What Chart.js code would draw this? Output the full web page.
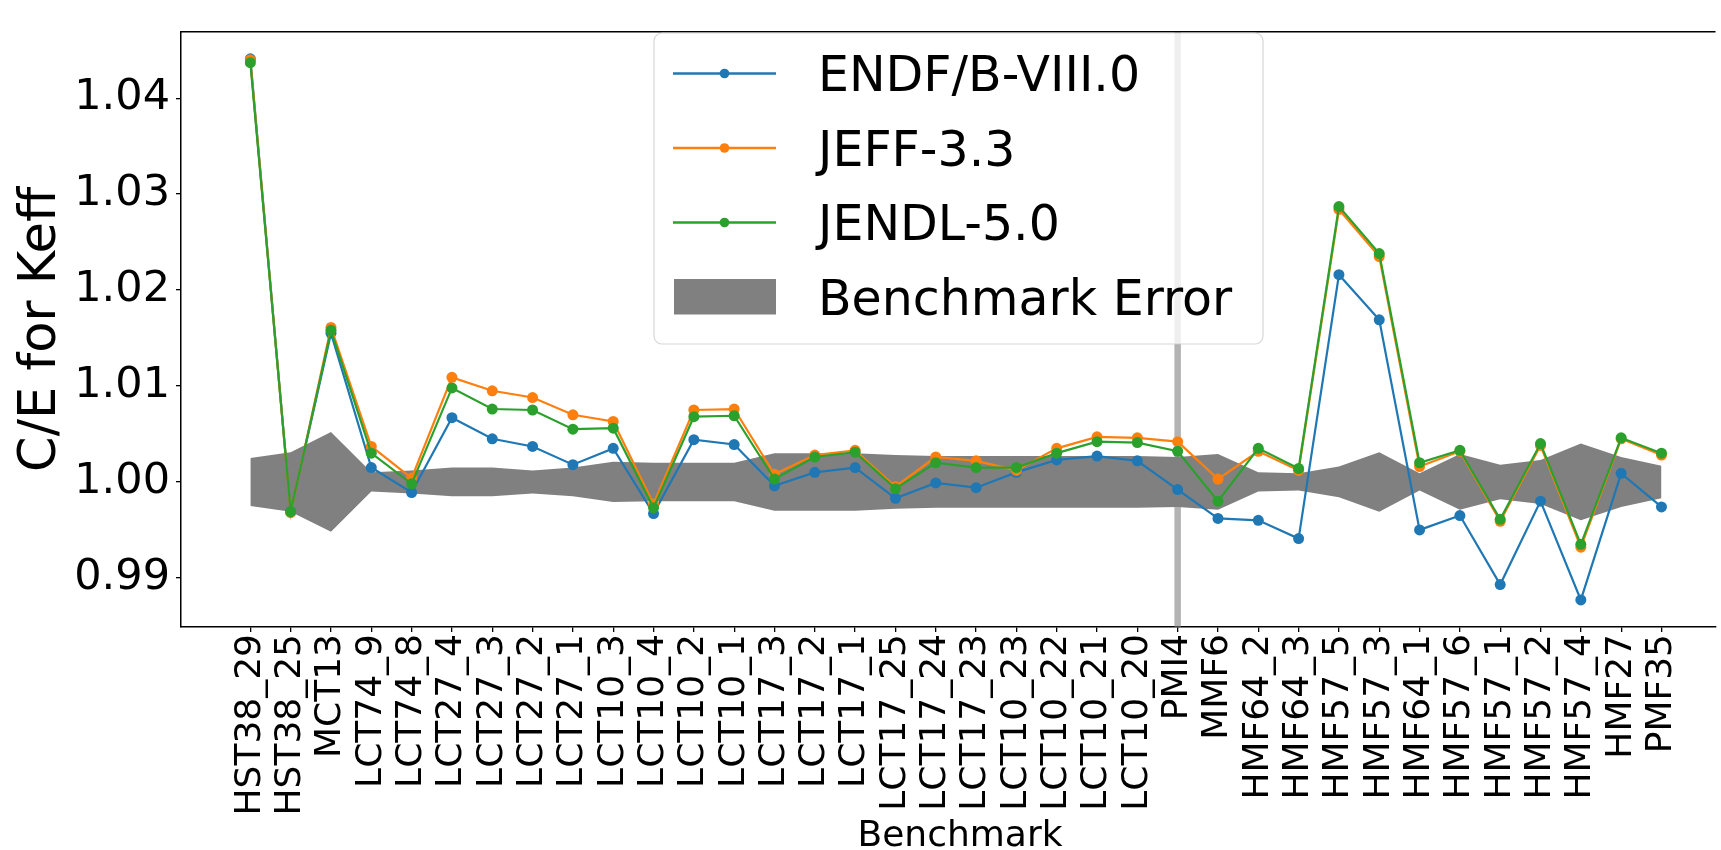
<!DOCTYPE html>
<html>
<head>
<meta charset="utf-8">
<title>C/E for Keff by benchmark</title>
<script src="https://cdn.jsdelivr.net/npm/chart.js@4.4.1/dist/chart.umd.min.js"></script>
<style>
  html, body { margin: 0; padding: 0; background: #ffffff; }
  #chartBox { width: 1721px; height: 850px; }
</style>
</head>
<body>
<div id="chartBox"><canvas id="myChart" width="1721" height="850"></canvas></div>
<script>
const benchmarks = [
  "HST38_29", "HST38_25", "MCT13", "LCT74_9", "LCT74_8", "LCT27_4", "LCT27_3",
  "LCT27_2", "LCT27_1", "LCT10_3", "LCT10_4", "LCT10_2", "LCT10_1", "LCT17_3",
  "LCT17_2", "LCT17_1", "LCT17_25", "LCT17_24", "LCT17_23", "LCT10_23", "LCT10_22",
  "LCT10_21", "LCT10_20", "PMI4", "MMF6", "HMF64_2", "HMF64_3", "HMF57_5",
  "HMF57_3", "HMF64_1", "HMF57_6", "HMF57_1", "HMF57_2", "HMF57_4", "HMF27", "PMF35"
];

const endfValues = [
  1.0441, 0.9969, 1.0155, 1.0015, 0.9989, 1.0067, 1.0045, 1.0037, 1.0018, 1.0035,
  0.9967, 1.0044, 1.0039, 0.9996, 1.0010, 1.0015, 0.9983, 0.9999, 0.9994, 1.0010,
  1.0023, 1.0027, 1.0022, 0.9992, 0.9962, 0.9960, 0.9941, 1.0216, 1.0169, 0.9950,
  0.9965, 0.9893, 0.9980, 0.9877, 1.0009, 0.9974
];

const jeffValues = [
  1.0440, 0.9968, 1.0161, 1.0037, 1.0004, 1.0109, 1.0095, 1.0088, 1.0070, 1.0063,
  0.9977, 1.0075, 1.0076, 1.0008, 1.0028, 1.0033, 0.9995, 1.0026, 1.0022, 1.0012,
  1.0035, 1.0047, 1.0046, 1.0042, 1.0003, 1.0032, 1.0012, 1.0284, 1.0235, 1.0016,
  1.0032, 0.9959, 1.0038, 0.9932, 1.0045, 1.0028
];

const jendlValues = [
  1.0437, 0.9969, 1.0158, 1.0030, 0.9998, 1.0098, 1.0076, 1.0075, 1.0055, 1.0056,
  0.9973, 1.0068, 1.0069, 1.0003, 1.0026, 1.0031, 0.9993, 1.0020, 1.0015, 1.0015,
  1.0030, 1.0042, 1.0041, 1.0032, 0.9980, 1.0035, 1.0014, 1.0287, 1.0238, 1.0020,
  1.0033, 0.9961, 1.0040, 0.9935, 1.0046, 1.0030
];

// half width of the benchmark uncertainty band around C/E = 1
const benchmarkError = [
  0.0025, 0.0031, 0.0052, 0.0010, 0.0012, 0.0015, 0.0015, 0.0012, 0.0015, 0.0021,
  0.0020, 0.0020, 0.0020, 0.0030, 0.0030, 0.0030, 0.0028, 0.0027, 0.0027, 0.0027,
  0.0027, 0.0027, 0.0027, 0.0026, 0.0029, 0.0010, 0.0009, 0.0016, 0.0031, 0.0009,
  0.0029, 0.0018, 0.0023, 0.0040, 0.0026, 0.0017
];

const yTickValues = [0.99, 1.00, 1.01, 1.02, 1.03, 1.04];
const separatorBenchmark = "PMI4";
const xTitle = "Benchmark";

const fontFamily = "'DejaVu Sans', 'Liberation Sans', sans-serif";
const toPoints = (values) => values.map((v, i) => ({ x: i, y: v }));

const seriesDataset = (label, values, color, order) => ({
  label: label,
  data: toPoints(values),
  borderColor: color,
  backgroundColor: color,
  pointBackgroundColor: color,
  pointBorderWidth: 0,
  pointRadius: 5.5,
  borderWidth: 2.2,
  tension: 0,
  fill: false,
  order: order,
});

const legendPlugin = {
  id: "boxLegend",
  beforeDatasetsDraw(chart) {
    // grey separator line at the PMI4 benchmark
    const ctx = chart.ctx;
    const area = chart.chartArea;
    const xPos = chart.scales.x.getPixelForValue(benchmarks.indexOf(separatorBenchmark));
    ctx.save();
    ctx.strokeStyle = "rgba(128,128,128,0.6)";
    ctx.lineWidth = 6.5;
    ctx.beginPath();
    ctx.moveTo(xPos, area.top);
    ctx.lineTo(xPos, area.bottom);
    ctx.stroke();
    ctx.restore();
  },
  afterDraw(chart) {
    const ctx = chart.ctx;
    const area = chart.chartArea;
    ctx.save();
    // top spine
    ctx.strokeStyle = "#000000";
    ctx.lineWidth = 1.5;
    ctx.beginPath();
    ctx.moveTo(area.left, area.top);
    ctx.lineTo(area.right, area.top);
    ctx.stroke();

    // x axis title, centred on the full axes width of the original figure
    ctx.font = `36px ${fontFamily}`;
    ctx.fillStyle = "#000000";
    ctx.textAlign = "center";
    ctx.textBaseline = "alphabetic";
    ctx.fillText(xTitle, 960, 846);

    // legend frame
    const box = { x: 654, y: 33, w: 609, h: 311, r: 8 };
    ctx.beginPath();
    ctx.roundRect(box.x, box.y, box.w, box.h, box.r);
    ctx.fillStyle = "rgba(255,255,255,0.8)";
    ctx.fill();
    ctx.strokeStyle = "rgba(204,204,204,0.8)";
    ctx.lineWidth = 1.2;
    ctx.stroke();

    const rowBase = [91, 165.5, 240, 314.5];
    const lines = chart.data.datasets.filter((d) => d.showInLegend);
    ctx.font = `49px ${fontFamily}`;
    ctx.textAlign = "left";
    lines.forEach((d, i) => {
      const yMid = rowBase[i] - 17.5;
      ctx.strokeStyle = d.borderColor;
      ctx.lineWidth = 2.5;
      ctx.beginPath();
      ctx.moveTo(673, yMid);
      ctx.lineTo(776, yMid);
      ctx.stroke();
      ctx.fillStyle = d.borderColor;
      ctx.beginPath();
      ctx.arc(724.5, yMid, 4.8, 0, Math.PI * 2);
      ctx.fill();
      ctx.fillStyle = "#000000";
      ctx.fillText(d.label, 818, rowBase[i]);
    });
    ctx.fillStyle = "#808080";
    ctx.fillRect(674, 279, 102, 35.5);
    ctx.fillStyle = "#000000";
    ctx.fillText("Benchmark Error", 818, rowBase[3]);
    ctx.restore();
  },
};

const initiateChart = () => {
  const ctx = document.getElementById("myChart");
  const endf = seriesDataset("ENDF/B-VIII.0", endfValues, "#1f77b4", 3);
  const jeff = seriesDataset("JEFF-3.3", jeffValues, "#ff7f0e", 2);
  const jendl = seriesDataset("JENDL-5.0", jendlValues, "#2ca02c", 1);
  [endf, jeff, jendl].forEach((d) => (d.showInLegend = true));

  const bandLower = {
    label: "band lower",
    data: toPoints(benchmarkError.map((e) => 1 - e)),
    borderWidth: 0,
    pointRadius: 0,
    fill: false,
    order: 5,
  };
  const bandUpper = {
    label: "Benchmark Error",
    data: toPoints(benchmarkError.map((e) => 1 + e)),
    borderWidth: 0,
    pointRadius: 0,
    backgroundColor: "#808080",
    fill: { target: 3 },
    order: 4,
  };

  const Config = {
    type: "line",
    data: { datasets: [endf, jeff, jendl, bandLower, bandUpper] },
    options: {
      responsive: false,
      devicePixelRatio: 1,
      animation: false,
      events: [],
      layout: { padding: { top: 7, left: 0, right: 0, bottom: 0 } },
      plugins: {
        legend: { display: false },
        tooltip: { enabled: false },
      },
      scales: {
        x: {
          type: "linear",
          min: -1.72,
          max: 36.34,
          afterBuildTicks: (scale) => {
            scale.ticks = benchmarks.map((_, i) => ({ value: i }));
          },
          afterFit: (scale) => {
            scale.height = 223;
          },
          grid: { display: true, drawOnChartArea: false, drawTicks: true, tickLength: 5, color: "#000000", lineWidth: 1.3 },
          border: { display: true, color: "#000000", width: 1.5 },
          ticks: {
            autoSkip: false,
            minRotation: 90,
            maxRotation: 90,
            padding: 2,
            color: "#000000",
            font: { family: fontFamily, size: 36 },
            callback: (value) => benchmarks[value],
          },
          title: { display: false },
        },
        y: {
          type: "linear",
          min: 0.98488,
          max: 1.04692,
          afterBuildTicks: (scale) => {
            scale.ticks = yTickValues.map((v) => ({ value: v }));
          },
          afterFit: (scale) => {
            scale.width = 181;
          },
          grid: { display: true, drawOnChartArea: false, drawTicks: true, tickLength: 5, color: "#000000", lineWidth: 1.3 },
          border: { display: true, color: "#000000", width: 1.5 },
          ticks: {
            padding: 6,
            color: "#000000",
            font: { family: fontFamily, size: 43 },
            callback: (value) => value.toFixed(2),
          },
          title: {
            display: true,
            text: "C/E for Keff",
            color: "#000000",
            font: { family: fontFamily, size: 51, lineHeight: 1 },
            padding: { top: 16, bottom: 0 },
          },
        },
      },
    },
    plugins: [legendPlugin],
  };
  const myChart = new Chart(ctx, Config);
};

initiateChart();
</script>
</body>
</html>
